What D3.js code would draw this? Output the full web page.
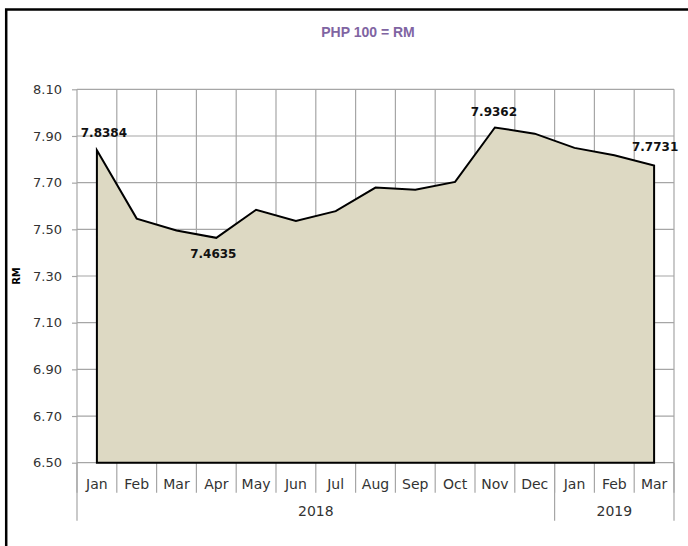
<!DOCTYPE html>
<html lang="en">
<head>
	<meta charset="UTF-8">
	<title>PHP 100 = RM</title>
	<style>
		body { margin: 0; background: #fff; }
		svg { display: block; }
	</style>
</head>
<body>
	<svg id="cont" width="688" height="546"></svg>
</body>
<script src="https://cdn.jsdelivr.net/npm/d3@7"></script>
<script>
	// values
	let months = ["Jan","Feb","Mar","Apr","May","Jun","Jul","Aug","Sep","Oct","Nov","Dec","Jan","Feb","Mar"];
	let years = ["2018","2018","2018","2018","2018","2018","2018","2018","2018","2018","2018","2018","2019","2019","2019"];
	let rates = [7.8384, 7.546, 7.495, 7.4635, 7.584, 7.536, 7.578, 7.679, 7.670, 7.703, 7.9362, 7.910, 7.849, 7.817, 7.7731];
	let yTicks = [6.50, 6.70, 6.90, 7.10, 7.30, 7.50, 7.70, 7.90, 8.10];
	let labelled = [0, 3, 10, 14];

	let svg = d3.select("#cont");
	let plotL = 77, plotR = 674, plotT = 89.3, plotB = 462.7;

	let data = months.map((m, i) => ({key: years[i] + "-" + m, month: m, year: years[i], rate: rates[i]}));

	let x = d3.scaleBand()
		.domain(data.map(d => d.key))
		.range([plotL, plotR]);
	let y = d3.scaleLinear()
		.domain([yTicks[0], yTicks[yTicks.length - 1]])
		.range([plotB, plotT]);

	// outer frame
	svg.append("rect")
		.attr("x", 6.2).attr("y", 9.5)
		.attr("width", 800).attr("height", 800)
		.attr("fill", "none")
		.attr("stroke", "#000")
		.attr("stroke-width", 2.5);

	svg.append("text")
		.attr("x", 368).attr("y", 37)
		.attr("text-anchor", "middle")
		.attr("font-family", "Liberation Sans, Arial, sans-serif")
		.attr("font-weight", "bold")
		.attr("font-size", 14)
		.attr("fill", "#8064A2")
		.text("PHP 100 = RM");

	// horizontal grid
	svg.append("g")
		.selectAll("line")
		.data(yTicks)
		.join("line")
		.attr("x1", plotL).attr("x2", plotR)
		.attr("y1", d => y(d)).attr("y2", d => y(d))
		.attr("stroke", "#a6a6a6")
		.attr("stroke-width", 1.2);

	// vertical grid at category boundaries
	let edges = data.map(d => x(d.key)).concat([plotR]);
	svg.append("g")
		.selectAll("line")
		.data(edges)
		.join("line")
		.attr("x1", d => d).attr("x2", d => d)
		.attr("y1", plotT).attr("y2", plotB + 30)
		.attr("stroke", "#a6a6a6")
		.attr("stroke-width", 1.2);

	// year separators go further down
	let yearEdges = [plotL, x("2019-Jan"), plotR];
	svg.append("g")
		.selectAll("line")
		.data(yearEdges)
		.join("line")
		.attr("x1", d => d).attr("x2", d => d)
		.attr("y1", plotB).attr("y2", plotB + 58)
		.attr("stroke", "#a6a6a6")
		.attr("stroke-width", 1.2);

	// y axis
	let yaxis = d3.axisLeft(y)
		.tickValues(yTicks)
		.tickSize(5)
		.tickPadding(10)
		.tickFormat(d3.format(".2f"));
	let yg = svg.append("g")
		.attr("transform", "translate(" + plotL + ",0)")
		.call(yaxis);
	yg.select(".domain").remove();
	yg.selectAll(".tick line").attr("stroke", "#a6a6a6").attr("stroke-width", 1.2);
	yg.selectAll(".tick text")
		.attr("font-family", "DejaVu Sans, sans-serif")
		.attr("font-size", 13)
		.attr("fill", "#333");

	svg.append("text")
		.attr("transform", "translate(20,276) rotate(-90)")
		.attr("text-anchor", "middle")
		.attr("font-family", "DejaVu Sans, sans-serif")
		.attr("font-weight", "bold")
		.attr("font-size", 10)
		.attr("fill", "#000")
		.text("RM");

	// area
	let cx = d => x(d.key) + x.bandwidth() / 2;
	let area = d3.area()
		.x(cx)
		.y0(y(yTicks[0]))
		.y1(d => y(d.rate));
	svg.append("path")
		.datum(data)
		.attr("d", area)
		.attr("fill", "#DDD9C3")
		.attr("stroke", "#000")
		.attr("stroke-width", 2)
		.attr("stroke-linejoin", "miter");

	// month labels
	svg.append("g")
		.selectAll("text")
		.data(data)
		.join("text")
		.attr("x", cx)
		.attr("y", plotB + 26)
		.attr("text-anchor", "middle")
		.attr("font-family", "DejaVu Sans, sans-serif")
		.attr("font-size", 14)
		.attr("fill", "#333")
		.text(d => d.month);

	// year labels
	let yearNames = ["2018", "2019"];
	svg.append("g")
		.selectAll("text")
		.data(yearNames)
		.join("text")
		.attr("x", (d, i) => (yearEdges[i] + yearEdges[i + 1]) / 2)
		.attr("y", plotB + 53)
		.attr("text-anchor", "middle")
		.attr("font-family", "DejaVu Sans, sans-serif")
		.attr("font-size", 14)
		.attr("fill", "#333")
		.text(d => d);

	// data labels
	let labelDx = [7, -3, -1, 1];
	let labelDy = [-13, 20, -12, -15];
	svg.append("g")
		.selectAll("text")
		.data(labelled)
		.join("text")
		.attr("x", (d, i) => cx(data[d]) + labelDx[i])
		.attr("y", (d, i) => y(data[d].rate) + labelDy[i])
		.attr("text-anchor", "middle")
		.attr("font-family", "DejaVu Sans, sans-serif")
		.attr("font-weight", "bold")
		.attr("font-size", 12)
		.attr("fill", "#111")
		.text(d => d3.format(".4f")(data[d].rate));
</script>
</html>
